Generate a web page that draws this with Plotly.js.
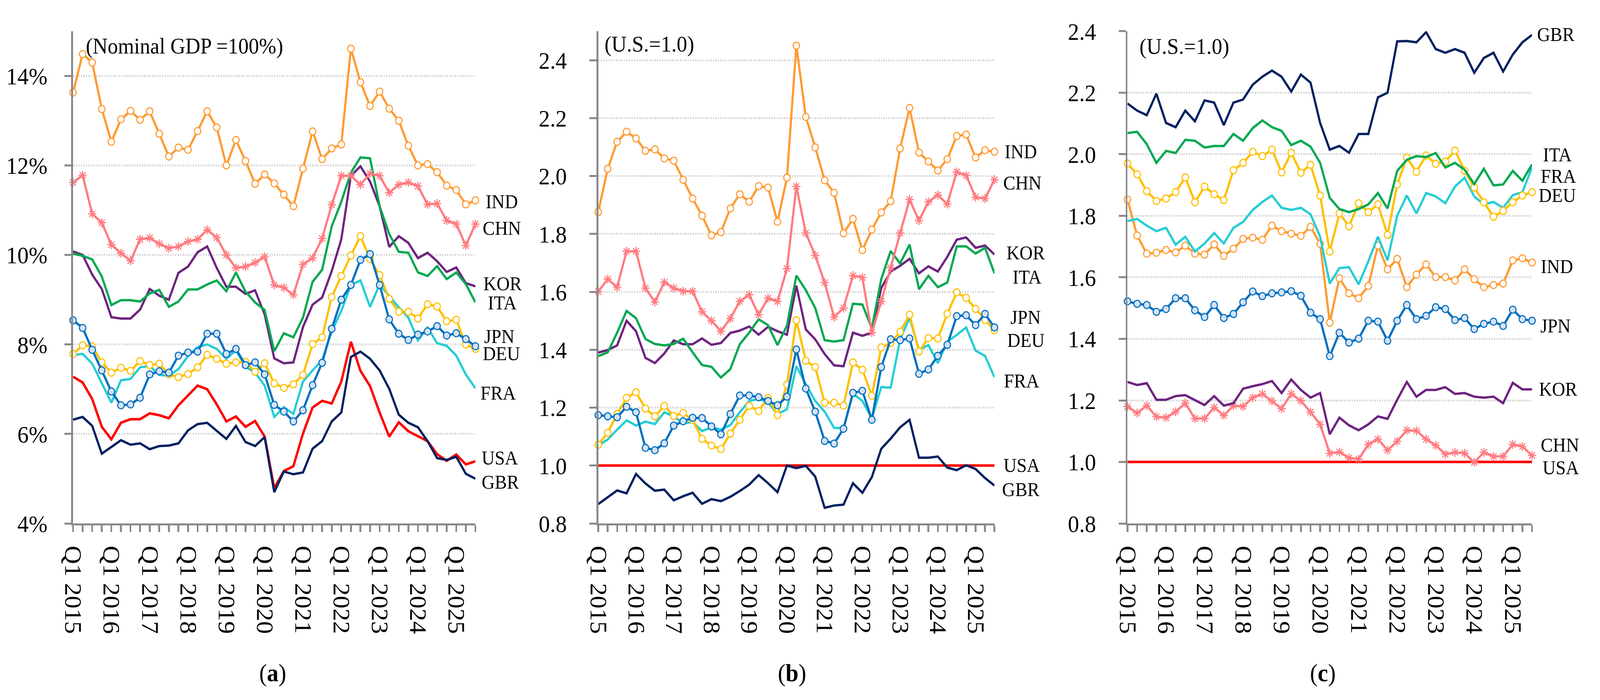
<!DOCTYPE html>
<html>
<head>
<meta charset="utf-8">
<script src="https://cdn.plot.ly/plotly-3.0.1.min.js"></script>
<style>
html, body {margin:0; padding:0; background:#fff; overflow:hidden;}
#chart {width:4402px; height:1792px; transform-origin:0 0;}
</style>
</head>
<body>
<div id="chart"></div>
<script>
// Quarters Q1 2015 .. Q3 2025 (43 points).
var quarters = ['Q1 2015','Q2 2015','Q3 2015','Q4 2015','Q1 2016','Q2 2016','Q3 2016','Q4 2016',
'Q1 2017','Q2 2017','Q3 2017','Q4 2017','Q1 2018','Q2 2018','Q3 2018','Q4 2018',
'Q1 2019','Q2 2019','Q3 2019','Q4 2019','Q1 2020','Q2 2020','Q3 2020','Q4 2020',
'Q1 2021','Q2 2021','Q3 2021','Q4 2021','Q1 2022','Q2 2022','Q3 2022','Q4 2022',
'Q1 2023','Q2 2023','Q3 2023','Q4 2023','Q1 2024','Q2 2024','Q3 2024','Q4 2024',
'Q1 2025','Q2 2025','Q3 2025'];
// only Q1 gets a label, every quarter gets a tick.
var tick_labels = ['Q1 2015','','','','Q1 2016','','','','Q1 2017','','','','Q1 2018','','','',
'Q1 2019','','','','Q1 2020','','','','Q1 2021','','','','Q1 2022','','','',
'Q1 2023','','','','Q1 2024','','','','Q1 2025','',''];
var pct_ticks = [4, 6, 8, 10, 12, 14];
var pct_labels = ['4%', '6%', '8%', '10%', '12%', '14%'];
var ratio_ticks = [0.8, 1.0, 1.2, 1.4, 1.6, 1.8, 2.0, 2.2, 2.4];
var ratio_labels = ['0.8', '1.0', '1.2', '1.4', '1.6', '1.8', '2.0', '2.2', '2.4'];

// (a) share of nominal GDP, %.
var ind_a = [13.63,14.49,14.30,13.26,12.53,13.03,13.22,13.02,13.21,12.71,12.20,12.40,12.35,12.77,13.21,12.85,12.00,12.57,12.10,11.59,11.80,11.60,11.35,11.09,11.93,12.76,12.14,12.38,12.47,14.61,13.86,13.33,13.65,13.27,13.00,12.44,12.00,12.03,11.85,11.55,11.45,11.13,11.22];
var chn_a = [11.62,11.78,10.92,10.72,10.23,10.04,9.87,10.35,10.38,10.25,10.15,10.19,10.30,10.35,10.56,10.39,10.00,9.71,9.74,9.83,9.96,9.33,9.27,9.11,9.79,9.93,10.37,11.12,11.77,11.77,11.57,11.82,11.77,11.39,11.57,11.62,11.54,11.13,11.15,10.77,10.69,10.21,10.69];
var kor_a = [10.08,10.00,9.56,9.24,8.61,8.58,8.58,8.78,9.24,9.09,9.00,9.60,9.74,10.06,10.19,9.71,9.29,9.29,9.13,9.21,8.67,7.69,7.58,7.60,8.39,8.89,9.05,9.64,10.35,11.77,11.98,11.64,11.09,10.18,10.42,10.27,9.93,10.05,9.86,9.62,9.72,9.37,9.30];
var ita_a = [10.03,9.98,9.90,9.52,8.88,8.99,8.99,8.96,9.14,9.22,8.84,8.96,9.23,9.23,9.34,9.43,9.19,9.61,9.18,8.94,8.77,7.85,8.25,8.16,8.60,9.40,9.67,10.64,11.19,11.84,12.18,12.16,11.09,10.47,10.07,10.05,9.61,9.53,9.75,9.46,9.61,9.35,8.94];
var jpn_a = [8.54,8.37,7.88,7.42,6.95,6.64,6.66,6.81,7.33,7.40,7.37,7.75,7.82,7.84,8.24,8.24,7.79,7.90,7.54,7.60,7.33,6.65,6.50,6.28,6.53,7.09,7.59,8.35,9.00,9.33,9.89,10.02,9.33,8.56,8.24,8.10,8.22,8.29,8.41,8.20,8.25,8.12,7.96];
var deu_a = [7.79,7.98,7.96,7.60,7.37,7.48,7.41,7.63,7.54,7.57,7.33,7.27,7.34,7.49,7.77,7.68,7.57,7.60,7.61,7.39,7.58,7.13,7.03,7.11,7.32,8.01,8.16,9.06,9.53,9.99,10.42,9.91,9.55,9.02,8.73,8.73,8.58,8.90,8.85,8.52,8.55,8.00,7.90];
var fra_a = [7.76,7.79,7.57,7.13,6.70,7.20,7.23,7.49,7.52,7.32,7.30,7.45,7.74,7.94,8.00,7.90,7.68,7.87,7.50,7.37,7.08,6.38,6.60,6.45,7.17,7.42,7.65,8.29,8.75,9.33,9.43,8.84,9.34,9.08,8.83,8.60,8.09,8.38,8.03,7.97,7.75,7.33,7.02];
var usa_a = [7.28,7.15,6.78,6.16,5.88,6.25,6.33,6.33,6.46,6.42,6.35,6.64,6.86,7.08,7.00,6.66,6.28,6.39,6.16,6.29,5.94,4.79,5.17,5.28,6.01,6.59,6.74,6.68,7.17,8.06,7.41,7.07,6.48,5.94,6.26,6.06,5.95,5.84,5.55,5.40,5.54,5.32,5.39];
var gbr_a = [6.32,6.38,6.18,5.56,5.71,5.86,5.76,5.79,5.66,5.73,5.74,5.79,6.08,6.22,6.25,6.07,5.89,6.18,5.82,5.73,5.93,4.70,5.16,5.10,5.14,5.67,5.84,6.28,6.48,7.72,7.84,7.68,7.42,7.01,6.43,6.25,6.15,5.84,5.46,5.42,5.49,5.11,5.00];

// (b) relative to U.S. = 1.0
var ind_b = [1.876,2.025,2.118,2.153,2.130,2.087,2.092,2.061,2.053,1.987,1.922,1.863,1.795,1.806,1.888,1.937,1.911,1.965,1.960,1.842,1.994,2.450,2.204,2.099,1.985,1.942,1.802,1.852,1.744,1.815,1.874,1.913,2.095,2.235,2.081,2.050,2.019,2.058,2.138,2.143,2.064,2.089,2.084];
var chn_b = [1.601,1.644,1.616,1.740,1.740,1.613,1.565,1.633,1.613,1.602,1.602,1.531,1.500,1.464,1.508,1.567,1.590,1.521,1.578,1.567,1.680,1.964,1.803,1.726,1.632,1.513,1.544,1.656,1.649,1.459,1.567,1.683,1.803,1.919,1.846,1.911,1.934,1.903,2.014,2.002,1.927,1.922,1.987];
var kor_b = [1.390,1.399,1.415,1.500,1.464,1.372,1.354,1.387,1.432,1.419,1.419,1.439,1.417,1.423,1.458,1.466,1.480,1.452,1.479,1.464,1.452,1.621,1.470,1.436,1.385,1.346,1.343,1.459,1.448,1.459,1.613,1.670,1.690,1.714,1.664,1.688,1.670,1.721,1.780,1.788,1.752,1.760,1.729];
var ita_b = [1.378,1.391,1.459,1.534,1.509,1.437,1.420,1.415,1.420,1.438,1.391,1.347,1.341,1.304,1.333,1.419,1.459,1.505,1.485,1.416,1.483,1.656,1.606,1.544,1.433,1.428,1.433,1.559,1.556,1.474,1.644,1.741,1.698,1.763,1.609,1.655,1.616,1.632,1.757,1.757,1.732,1.752,1.664];
var jpn_b = [1.174,1.170,1.167,1.203,1.184,1.061,1.053,1.077,1.138,1.153,1.165,1.164,1.135,1.108,1.178,1.242,1.242,1.236,1.223,1.208,1.238,1.401,1.266,1.186,1.085,1.076,1.127,1.251,1.258,1.158,1.340,1.436,1.433,1.439,1.317,1.332,1.379,1.417,1.516,1.519,1.485,1.524,1.477];
var deu_b = [1.072,1.113,1.178,1.234,1.253,1.197,1.170,1.206,1.171,1.182,1.158,1.092,1.069,1.057,1.110,1.158,1.206,1.188,1.233,1.174,1.280,1.502,1.362,1.340,1.217,1.217,1.207,1.356,1.331,1.241,1.408,1.423,1.462,1.521,1.394,1.440,1.439,1.524,1.598,1.579,1.541,1.502,1.467];
var fra_b = [1.069,1.090,1.124,1.156,1.138,1.152,1.143,1.184,1.170,1.146,1.150,1.119,1.132,1.124,1.140,1.184,1.223,1.230,1.218,1.178,1.194,1.343,1.281,1.223,1.186,1.130,1.130,1.248,1.223,1.163,1.271,1.269,1.436,1.510,1.400,1.416,1.354,1.428,1.451,1.477,1.397,1.379,1.305];
var usa_b = [1.0,1.0,1.0,1.0,1.0,1.0,1.0,1.0,1.0,1.0,1.0,1.0,1.0,1.0,1.0,1.0,1.0,1.0,1.0,1.0,1.0,1.0,1.0,1.0,1.0,1.0,1.0,1.0,1.0,1.0,1.0,1.0,1.0,1.0,1.0,1.0,1.0,1.0,1.0,1.0,1.0,1.0,1.0];
var gbr_b = [0.867,0.891,0.914,0.904,0.971,0.938,0.913,0.917,0.880,0.894,0.906,0.868,0.884,0.877,0.892,0.912,0.934,0.967,0.939,0.908,1.000,0.991,0.999,0.962,0.854,0.862,0.865,0.939,0.906,0.960,1.058,1.093,1.132,1.158,1.027,1.027,1.031,0.993,0.984,1.001,0.988,0.957,0.931];

// (c) relative to U.S. = 1.0
var gbr_c = [2.165,2.142,2.127,2.197,2.102,2.088,2.142,2.107,2.175,2.168,2.095,2.168,2.178,2.226,2.252,2.272,2.252,2.204,2.259,2.233,2.102,2.015,2.027,2.005,2.066,2.066,2.185,2.200,2.367,2.368,2.364,2.397,2.342,2.330,2.342,2.330,2.265,2.313,2.330,2.269,2.324,2.364,2.388];
var ita_c = [2.069,2.073,2.033,1.972,2.011,2.004,2.047,2.044,2.022,2.027,2.027,2.066,2.044,2.085,2.110,2.088,2.076,2.030,2.044,2.025,1.972,1.858,1.822,1.812,1.822,1.837,1.874,1.824,1.946,1.982,1.994,1.991,2.004,1.957,1.972,1.950,1.903,1.953,1.899,1.902,1.946,1.914,1.967];
var deu_c = [1.970,1.935,1.880,1.848,1.856,1.877,1.925,1.844,1.895,1.870,1.851,1.948,1.972,2.008,1.994,2.015,1.941,2.005,1.940,1.966,1.866,1.684,1.808,1.766,1.841,1.812,1.837,1.738,1.902,1.989,1.943,1.996,1.969,1.976,2.012,1.947,1.892,1.844,1.797,1.816,1.844,1.866,1.877];
var fra_c = [1.783,1.790,1.768,1.750,1.761,1.706,1.732,1.684,1.710,1.744,1.710,1.761,1.780,1.819,1.845,1.866,1.826,1.819,1.826,1.805,1.732,1.580,1.630,1.633,1.577,1.652,1.732,1.655,1.800,1.866,1.808,1.874,1.863,1.841,1.895,1.924,1.863,1.837,1.845,1.826,1.867,1.877,1.957];
var ind_c = [1.853,1.736,1.677,1.680,1.689,1.681,1.703,1.677,1.674,1.707,1.670,1.693,1.725,1.729,1.722,1.768,1.750,1.742,1.735,1.764,1.709,1.453,1.597,1.548,1.532,1.572,1.703,1.626,1.660,1.568,1.609,1.642,1.601,1.601,1.590,1.626,1.594,1.568,1.575,1.580,1.655,1.662,1.648];
var jpn_c = [1.522,1.514,1.510,1.488,1.497,1.532,1.532,1.493,1.471,1.510,1.468,1.481,1.519,1.554,1.539,1.548,1.551,1.555,1.540,1.485,1.464,1.344,1.420,1.388,1.401,1.459,1.456,1.394,1.459,1.510,1.464,1.475,1.503,1.497,1.461,1.468,1.432,1.449,1.456,1.442,1.495,1.464,1.459];
var kor_c = [1.260,1.250,1.256,1.202,1.202,1.214,1.217,1.202,1.185,1.214,1.183,1.191,1.238,1.246,1.253,1.263,1.224,1.268,1.234,1.209,1.224,1.090,1.144,1.119,1.103,1.122,1.148,1.140,1.202,1.260,1.212,1.234,1.234,1.243,1.221,1.224,1.212,1.209,1.212,1.191,1.257,1.236,1.236];
var chn_c = [1.180,1.159,1.183,1.147,1.144,1.163,1.191,1.141,1.141,1.177,1.151,1.183,1.180,1.209,1.221,1.198,1.173,1.221,1.199,1.162,1.122,1.028,1.032,1.013,1.009,1.057,1.074,1.038,1.067,1.103,1.101,1.074,1.054,1.025,1.031,1.028,0.999,1.031,1.018,1.018,1.057,1.050,1.021];
var usa_c = [1.0,1.0,1.0,1.0,1.0,1.0,1.0,1.0,1.0,1.0,1.0,1.0,1.0,1.0,1.0,1.0,1.0,1.0,1.0,1.0,1.0,1.0,1.0,1.0,1.0,1.0,1.0,1.0,1.0,1.0,1.0,1.0,1.0,1.0,1.0,1.0,1.0,1.0,1.0,1.0,1.0,1.0,1.0];

var FONT = 'Liberation Serif, Times New Roman, serif';
var AXIS_GREY = '#898989';

// Line and marker style per country.
var styles = {
IND: {color:'#FF9B33', width:6, marker:{symbol:'circle', size:18, color:'#ffffff', line:{color:'#FF9B33', width:3}}},
CHN: {color:'#FF7C80', width:6, marker:{symbol:'asterisk-open', size:19, color:'#FF7C80', line:{color:'#FF7C80', width:3}}},
KOR: {color:'#6E2380', width:6},
ITA: {color:'#00A850', width:6},
JPN: {color:'#0070C0', width:6, marker:{symbol:'circle', size:18, color:'#D6E1F3', line:{color:'#0070C0', width:3}}},
DEU: {color:'#FFC000', width:6, marker:{symbol:'circle', size:18, color:'#ffffff', line:{color:'#FFC000', width:3}}},
FRA: {color:'#26CDD5', width:6},
USA: {color:'#FF0000', width:6.5},
GBR: {color:'#002060', width:6}
};

function make_trace(name, values, ax){
var s = styles[name];
var trace = {
x: quarters,
y: values,
name: name,
type: 'scatter',
mode: s.marker ? 'lines+markers' : 'lines',
line: {color: s.color, width: s.width},
xaxis: 'x' + ax,
yaxis: 'y' + ax,
cliponaxis: false,
hoverinfo: 'skip'
};
if (s.marker){trace.marker = s.marker;}
return trace;
};

// Draw order: lower series first so markers stay on top.
var data = [
make_trace('USA', usa_a, ''), make_trace('GBR', gbr_a, ''), make_trace('FRA', fra_a, ''),
make_trace('DEU', deu_a, ''), make_trace('JPN', jpn_a, ''), make_trace('KOR', kor_a, ''),
make_trace('ITA', ita_a, ''), make_trace('CHN', chn_a, ''), make_trace('IND', ind_a, ''),
make_trace('USA', usa_b, '2'), make_trace('GBR', gbr_b, '2'), make_trace('FRA', fra_b, '2'),
make_trace('DEU', deu_b, '2'), make_trace('JPN', jpn_b, '2'), make_trace('KOR', kor_b, '2'),
make_trace('ITA', ita_b, '2'), make_trace('CHN', chn_b, '2'), make_trace('IND', ind_b, '2'),
make_trace('USA', usa_c, '3'), make_trace('CHN', chn_c, '3'), make_trace('KOR', kor_c, '3'),
make_trace('JPN', jpn_c, '3'), make_trace('IND', ind_c, '3'), make_trace('FRA', fra_c, '3'),
make_trace('DEU', deu_c, '3'), make_trace('ITA', ita_c, '3'), make_trace('GBR', gbr_c, '3')
];

function x_axis(domain, anchor){
return {
domain: domain, anchor: anchor, type: 'category',
range: [0, quarters.length - 1],
tickmode: 'array', tickvals: quarters, ticktext: tick_labels,
tickangle: 90, ticks: 'outside', ticklen: 17, tickwidth: 5, tickcolor: AXIS_GREY,
ticklabelstandoff: 22,
showline: true, linecolor: AXIS_GREY, linewidth: 5,
showgrid: false, zeroline: false,
tickfont: {family: FONT, size: 65, color: '#000'},
fixedrange: true
};
};

function y_axis(range, tickvals, ticktext, standoff, anchor){
return {
domain: [0.2522, 0.9554], anchor: anchor,
range: range, tickmode: 'array', tickvals: tickvals, ticktext: ticktext,
ticks: 'outside', ticklen: 19, tickwidth: 5, tickcolor: AXIS_GREY,
ticklabelstandoff: standoff,
showline: true, linecolor: AXIS_GREY, linewidth: 5,
showgrid: true, gridcolor: '#D9D9D9', gridwidth: 5, griddash: '4px,3px',
zeroline: false,
tickfont: {family: FONT, size: 62, color: '#000'},
fixedrange: true
};
};

// Country labels at the right end of each line.
function end_label(text, y, shift, ax){
return {
text: text, xref: 'x' + ax, yref: 'y' + ax,
x: quarters[quarters.length - 1], y: y,
xanchor: 'left', yanchor: 'middle', xshift: shift,
showarrow: false,
font: {family: FONT, size: 50, color: '#000'}
};
};

function note(text, x, y, size){
return {
text: text, xref: 'paper', yref: 'paper', x: x, y: y,
xanchor: 'left', yanchor: 'middle', showarrow: false,
font: {family: FONT, size: size, color: '#000'}
};
};

function panel_title(letter, x){
return {
text: '(<b>' + letter + '</b>)', xref: 'paper', yref: 'paper', x: x, y: 0.039,
xanchor: 'center', yanchor: 'middle', showarrow: false,
font: {family: FONT, size: 64, color: '#000'}
};
};

var annotations = [
note('(Nominal GDP =100%)', 0.0532, 0.934, 57),
note('(U.S.=1.0)', 0.3773, 0.9375, 58),
note('(U.S.=1.0)', 0.7117, 0.934, 58),
end_label('IND', 11.19, 26, ''), end_label('CHN', 10.60, 18, ''),
end_label('KOR', 9.36, 20, ''), end_label('ITA', 8.93, 32, ''),
end_label('JPN', 8.18, 22, ''), end_label('DEU', 7.80, 18, ''),
end_label('FRA', 6.92, 12, ''), end_label('USA', 5.47, 15, ''),
end_label('GBR', 4.93, 15, ''),
end_label('IND', 2.084, 26, '2'), end_label('CHN', 1.976, 22, '2'),
end_label('KOR', 1.735, 31, '2'), end_label('ITA', 1.652, 48, '2'),
end_label('JPN', 1.513, 42, '2'), end_label('DEU', 1.433, 33, '2'),
end_label('FRA', 1.292, 24, '2'), end_label('USA', 1.001, 23, '2'),
end_label('GBR', 0.917, 19, '2'),
end_label('GBR', 2.390, 12, '3'), end_label('ITA', 1.999, 28, '3'),
end_label('FRA', 1.929, 22, '3'), end_label('DEU', 1.867, 16, '3'),
end_label('IND', 1.635, 22, '3'), end_label('JPN', 1.443, 21, '3'),
end_label('KOR', 1.237, 17, '3'), end_label('CHN', 1.055, 22, '3'),
end_label('USA', 0.982, 27, '3'),
panel_title('a', 0.1705), panel_title('b', 0.4950), panel_title('c', 0.8267)
];

var layout = {
width: 4402, height: 1792,
margin: {l: 0, r: 0, t: 0, b: 0},
paper_bgcolor: '#ffffff', plot_bgcolor: '#ffffff',
showlegend: false,
xaxis: x_axis([0.04566, 0.29714], 'y'),
yaxis: y_axis([4, 15], pct_ticks, pct_labels, 34, 'x'),
xaxis2: x_axis([0.37392, 0.62153], 'y2'),
yaxis2: y_axis([0.8, 2.5], ratio_ticks, ratio_labels, 50, 'x2'),
xaxis3: x_axis([0.70468, 0.95752], 'y3'),
yaxis3: y_axis([0.8, 2.4], ratio_ticks, ratio_labels, 50, 'x3'),
annotations: annotations
};

// The window may be narrower than the 4402px figure: squeeze the drawing to fit it.
var chart = document.getElementById('chart');
var sx = Math.min(1, window.innerWidth / 4402);
var sy = Math.min(1, window.innerHeight / 1792);
if (sx < 1 || sy < 1){chart.style.transform = 'scale(' + sx + ',' + sy + ')';}

Plotly.newPlot(chart, data, layout, {displayModeBar: false, staticPlot: true});
</script>
</body>
</html>
